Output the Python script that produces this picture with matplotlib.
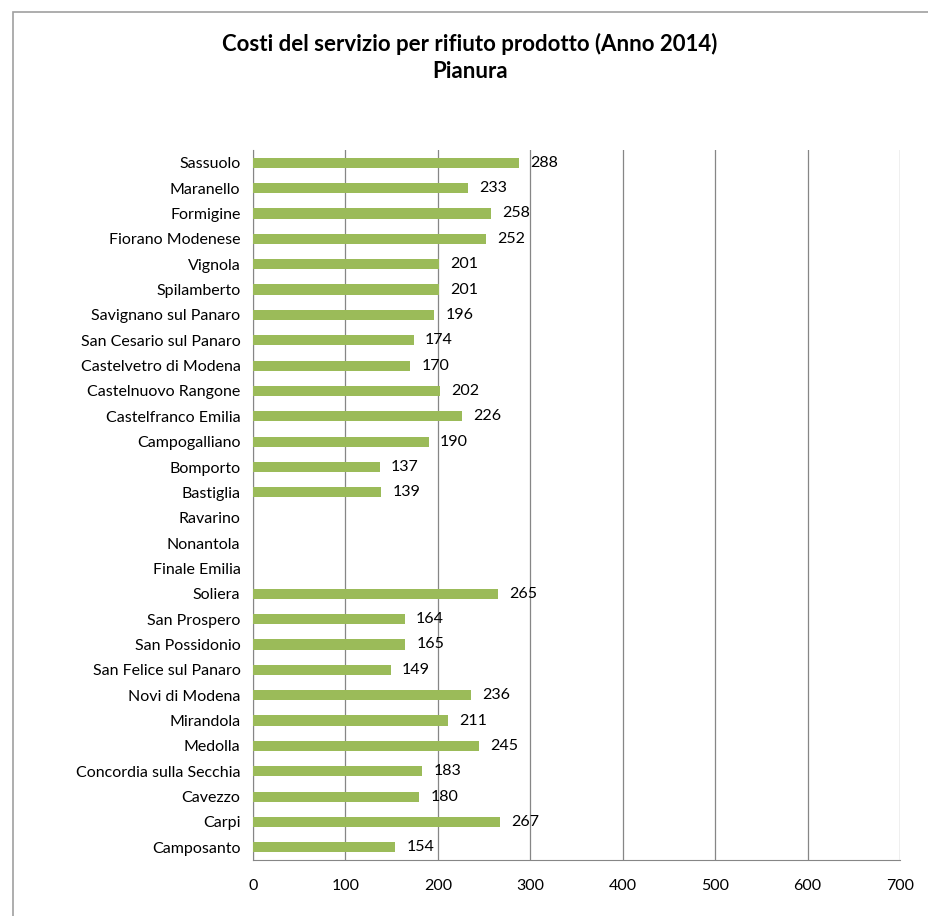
import matplotlib.pyplot as plt
import matplotlib.patches as patches
import numpy as np

comuni = ["Sassuolo", "Maranello", "Formigine", "Fiorano Modenese", "Vignola",
          "Spilamberto", "Savignano sul Panaro", "San Cesario sul Panaro",
          "Castelvetro di Modena", "Castelnuovo Rangone", "Castelfranco Emilia",
          "Campogalliano", "Bomporto", "Bastiglia", "Ravarino", "Nonantola",
          "Finale Emilia", "Soliera", "San Prospero", "San Possidonio",
          "San Felice sul Panaro", "Novi di Modena", "Mirandola", "Medolla",
          "Concordia sulla Secchia", "Cavezzo", "Carpi", "Camposanto"]
costi = [288, 233, 258, 252, 201, 201, 196, 174, 170, 202, 226, 190, 137, 139,
         None, None, None, 265, 164, 165, 149, 236, 211, 245, 183, 180, 267, 154]

plt.rcParams['font.family'] = ['Lato', 'DejaVu Sans']

fig = plt.figure(figsize=(9.29, 9.16), dpi=100)
ax = fig.add_axes([0.2723, 0.0611, 0.6965, 0.7751])

y = np.arange(len(comuni))
vals = np.array([np.nan if v is None else v for v in costi], dtype=float)
ax.barh(y, vals, height=0.4, color='#9BBB59', zorder=3)
for yi, v in zip(y, costi):
    if v is not None:
        ax.text(v + 12, yi, str(v), va='center', ha='left', fontsize=11.5, zorder=4)

ax.set_ylim(len(comuni) - 0.5, -0.5)
ax.set_xlim(0, 700)
ax.set_xticks(range(0, 701, 100))
ax.set_yticks(y)
ax.set_yticklabels(comuni, fontsize=11.5)
ax.tick_params(axis='x', labelsize=11.5, length=0, pad=14)
ax.tick_params(axis='y', length=0, pad=9)
ax.grid(axis='x', color='#868686', linewidth=0.9, zorder=0)
for s in ['top', 'right']:
    ax.spines[s].set_visible(False)
for s in ['left', 'bottom']:
    ax.spines[s].set_color('#868686')

fig.text(0.506, 0.952, "Costi del servizio per rifiuto prodotto (Anno 2014)",
         ha='center', va='center', fontsize=16, fontweight='bold')
fig.text(0.506, 0.922, "Pianura", ha='center', va='center', fontsize=16, fontweight='bold')

frame = patches.Rectangle((0.014, -0.1), 1.2, 1.087, transform=fig.transFigure,
                          fill=False, edgecolor='#A0A0A0', linewidth=1.2)
fig.add_artist(frame)

fig.savefig('out.png', dpi=100, facecolor='white')
